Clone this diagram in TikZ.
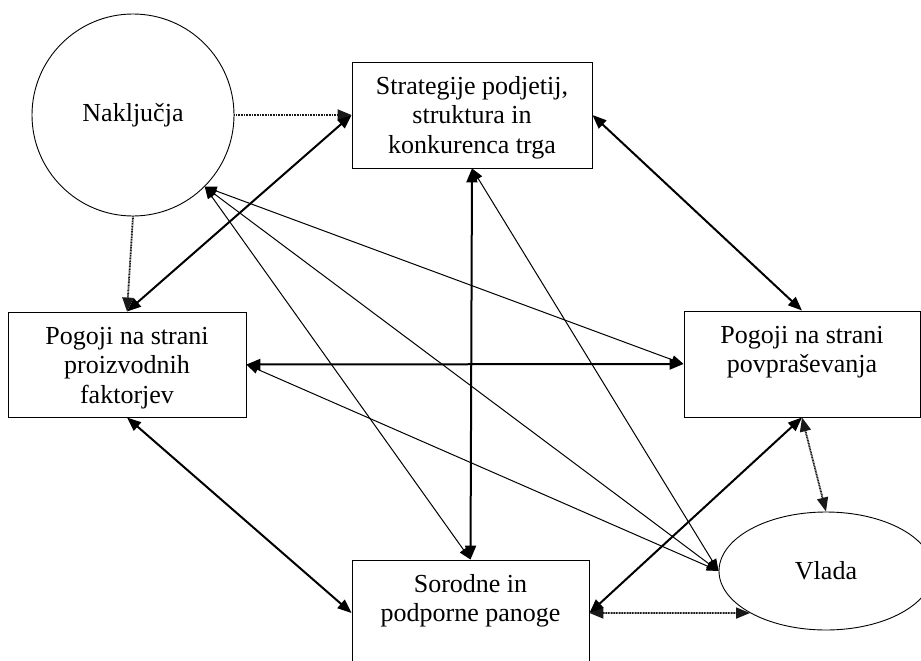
\documentclass[tikz,border=0pt]{standalone}
\usepackage{fontspec}
\setmainfont{Liberation Serif}
\usetikzlibrary{arrows.meta,shapes.geometric}

% box text: fixed-size parbox, lines centred and hung from the top
\newcommand\boxlines[3]{\parbox[c][#1][t]{#2}{\centering\rule{0pt}{32pt}#3\par}}

\tikzset{
  every node/.style={font=\fontsize{26}{29.5}\selectfont},
  factorbox/.style={draw, line width=0.9pt, inner sep=0pt, rectangle},
  chancecircle/.style={draw, line width=0.9pt, circle, minimum size=202pt, inner sep=0pt},
  govoval/.style={draw, line width=0.9pt, ellipse, minimum width=214pt, minimum height=118pt, inner sep=0pt},
  tip/.tip={Triangle[length=14pt,width=11pt]},
  smalltip/.tip={Triangle[length=12pt,width=9pt]},
  strong/.style={line width=2pt, tip-tip},
  weak/.style={line width=1pt, smalltip-smalltip},
  dotlink/.style={line width=1.8pt, dash pattern=on 1pt off 0.6pt, black!90},
}

\begin{document}
\begin{tikzpicture}[x=1pt, y=-1pt]
  \useasboundingbox (0,0) rectangle (921,661);
  \clip (0,0) rectangle (921,661);

  % the four determinants and the two outside factors
  \node[chancecircle] (nak) at (133,115) {Naključja};
  \node[factorbox] (strat) at (472,115)
    {\boxlines{106pt}{240pt}{Strategije podjetij,\\struktura in\\konkurenca trga}};
  \node[factorbox] (proiz) at (127,364.5)
    {\boxlines{105pt}{238pt}{Pogoji na strani\\proizvodnih\\faktorjev}};
  \node[factorbox] (povp) at (802,364)
    {\boxlines{106pt}{236pt}{Pogoji na strani\\povpraševanja}};
  \node[factorbox] (sor) at (470.5,613)
    {\boxlines{106pt}{237pt}{Sorodne in\\podporne panoge}};
  \node[govoval] (vlada) at (826,571) {Vlada};

  % chance influences
  \draw[dotlink, -tip] (nak.east) -- (strat.west);
  \draw[dotlink, -tip] (nak.south) -- (proiz.north);
  \draw[weak] (nak.south east) -- (povp.west);
  \draw[weak] (nak.south east) -- (vlada.west);
  \draw[weak] (nak.south east) -- (sor.north);

  % government influences
  \draw[weak] (strat.south) -- (vlada.west);
  \draw[weak] (proiz.east) -- (vlada.west);
  \draw[dotlink, tip-tip] (sor.east) -- (vlada.south west);
  \draw[dotlink, tip-tip] (povp.south) -- (vlada.north);

  % the diamond of determinants
  \draw[strong] (strat.west) -- (proiz.north);
  \draw[strong] (strat.east) -- (povp.north);
  \draw[strong] (proiz.east) -- (povp.west);
  \draw[strong] (strat.south) -- (sor.north);
  \draw[strong] (proiz.south) -- (sor.west);
  \draw[strong] (sor.east) -- (povp.south);
\end{tikzpicture}
\end{document}
